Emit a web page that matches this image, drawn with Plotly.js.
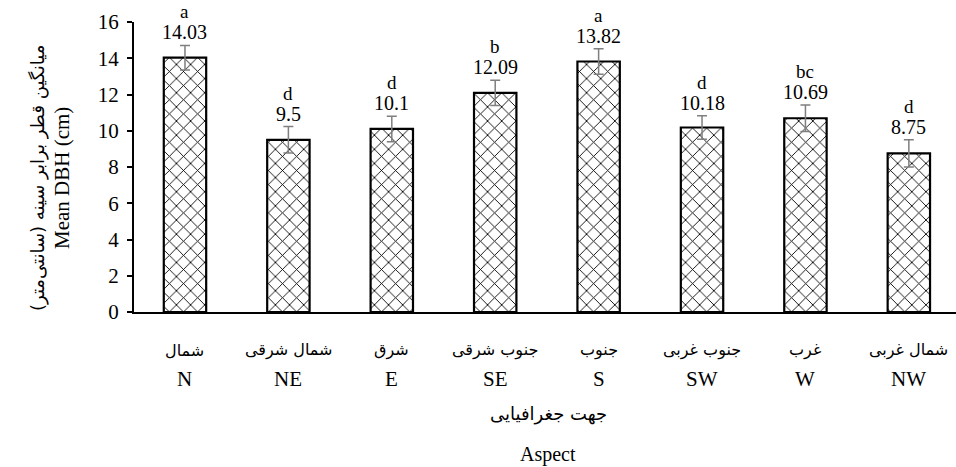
<!DOCTYPE html>
<html>
<head>
<meta charset="utf-8">
<script src="https://cdn.plot.ly/plotly-3.0.1.min.js"></script>
<style>html,body{margin:0;padding:0;background:#fff;}#chart{width:956px;height:467px;}</style>
</head>
<body>
<div id="chart"></div>
<script>
const categories = ["N", "NE", "E", "SE", "S", "SW", "W", "NW"];
const persianLabels = ["شمال", "شمال شرقی", "شرق", "جنوب شرقی", "جنوب", "جنوب غربی", "غرب", "شمال غربی"];
const meanDBH = [14.03, 9.5, 10.1, 12.09, 13.82, 10.18, 10.69, 8.75];
const errors = [0.68, 0.73, 0.7, 0.7, 0.7, 0.65, 0.73, 0.75];
const letters = ["a", "d", "d", "b", "a", "d", "bc", "d"];
const valueLabels = ["14.03", "9.5", "10.1", "12.09", "13.82", "10.18", "10.69", "8.75"];
const yTickVals = [0, 2, 4, 6, 8, 10, 12, 14, 16];

const serif = "'Liberation Serif', 'Times New Roman', 'DejaVu Serif', serif";
const persianFont = "'DejaVu Sans', 'Noto Sans', sans-serif";

const trace = {
  type: "bar",
  x: categories,
  y: meanDBH,
  width: 0.41,
  marker: {
    color: "#ffffff",
    line: {color: "#000000", width: 2.2},
    pattern: {shape: "x", fgcolor: "#000000", bgcolor: "#ffffff", size: 10, solidity: 0.17}
  },
  error_y: {type: "data", array: errors, visible: true, color: "#7f7f7f", thickness: 1.5, width: 5},
  hoverinfo: "none"
};

const annotations = [];
categories.forEach((c, i) => {
  annotations.push({x: c, y: meanDBH[i] + errors[i], xref: "x", yref: "y", text: valueLabels[i],
    showarrow: false, yanchor: "bottom", yshift: 0, font: {family: serif, size: 20, color: "#000"}});
  annotations.push({x: c, y: meanDBH[i] + errors[i], xref: "x", yref: "y", text: letters[i],
    showarrow: false, yanchor: "bottom", yshift: 21, font: {family: serif, size: 19, color: "#000"}});
  annotations.push({x: c, y: 0, xref: "x", yref: "y", text: persianLabels[i],
    showarrow: false, yanchor: "middle", yshift: -38, font: {family: persianFont, size: 16, color: "#000"}});
  annotations.push({x: c, y: 0, xref: "x", yref: "y", text: c,
    showarrow: false, yanchor: "middle", yshift: -67, font: {family: serif, size: 21, color: "#000"}});
});
annotations.push({x: -0.493, y: 0.462, xref: "x", yref: "paper", xanchor: "center", xshift: -96,
  text: "میانگین قطر برابر سینه (سانتی‌متر)", textangle: -90, showarrow: false,
  font: {family: persianFont, size: 18, color: "#000"}});
annotations.push({x: -0.493, y: 0.462, xref: "x", yref: "paper", xanchor: "center", xshift: -72,
  text: "Mean DBH (cm)", textangle: -90, showarrow: false,
  font: {family: serif, size: 21, color: "#000"}});
annotations.push({x: 0.504, xref: "paper", y: 0, yref: "y", yshift: -102, xanchor: "center",
  text: "جهت جغرافیایی", showarrow: false, font: {family: persianFont, size: 18, color: "#000"}});
annotations.push({x: 0.504, xref: "paper", y: 0, yref: "y", yshift: -142, xanchor: "center",
  text: "Aspect", showarrow: false, font: {family: serif, size: 20, color: "#000"}});

const layout = {
  width: 956, height: 467,
  margin: {l: 134, r: 0, t: 21.5, b: 155, pad: 0},
  paper_bgcolor: "#fff", plot_bgcolor: "#fff",
  showlegend: false,
  xaxis: {
    type: "category", range: [-0.493, 7.456], showticklabels: false, ticks: "",
    showline: true, linecolor: "#000", linewidth: 2, showgrid: false, zeroline: false, fixedrange: true
  },
  yaxis: {
    range: [0, 16], tickvals: yTickVals, ticks: "outside", ticklen: 5, tickwidth: 2, tickcolor: "#000",
    showline: true, linecolor: "#000", linewidth: 2, showgrid: false, zeroline: false,
    tickfont: {family: serif, size: 21, color: "#000"}, ticklabelstandoff: 4, fixedrange: true
  },
  annotations: annotations
};

Plotly.newPlot("chart", [trace], layout, {displayModeBar: false, staticPlot: true});
</script>
</body>
</html>
